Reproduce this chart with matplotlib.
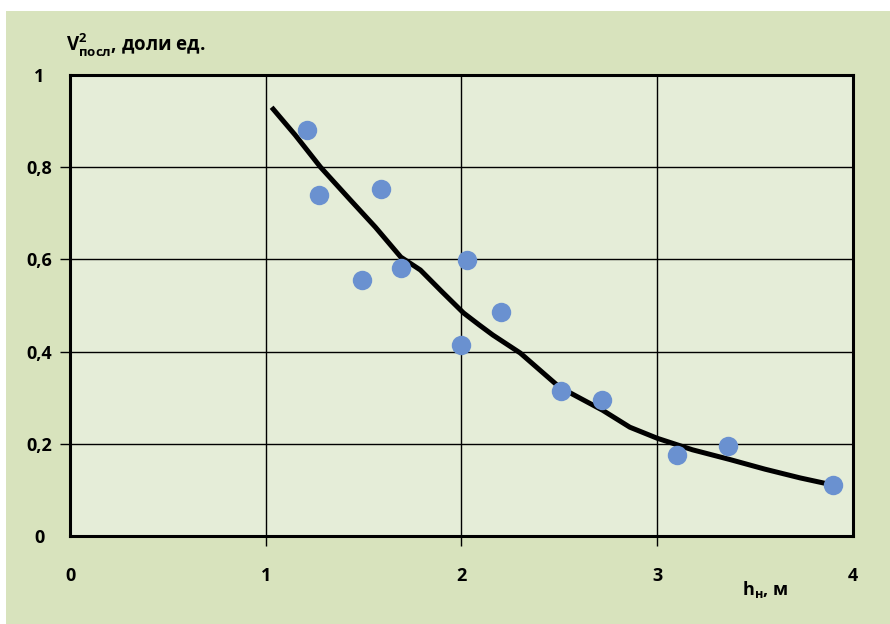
import matplotlib.pyplot as plt
from matplotlib.patches import Rectangle

plt.rcParams['font.family'] = ['Open Sans', 'DejaVu Sans']
plt.rcParams['mathtext.fontset'] = 'custom'
plt.rcParams['mathtext.rm'] = 'Open Sans:bold'
plt.rcParams['mathtext.it'] = 'Open Sans:bold'
plt.rcParams['mathtext.bf'] = 'Open Sans:bold'

# measured points
h_pts = [1.21, 1.27, 1.59, 1.49, 1.69, 2.03, 2.00, 2.20, 2.51, 2.72, 3.10, 3.36, 3.90]
v_pts = [0.88, 0.74, 0.753, 0.555, 0.581, 0.599, 0.414, 0.486, 0.315, 0.295, 0.176, 0.195, 0.111]

# trend curve
h_fit = [1.03, 1.15, 1.28, 1.43, 1.56, 1.69, 1.79, 1.90, 2.01, 2.09, 2.16, 2.30, 2.50,
         2.72, 2.86, 3.00, 3.18, 3.37, 3.55, 3.73, 3.86]
v_fit = [0.93, 0.87, 0.80, 0.73, 0.67, 0.605, 0.577, 0.53, 0.484, 0.458, 0.436, 0.397, 0.323,
         0.273, 0.236, 0.212, 0.187, 0.166, 0.145, 0.126, 0.114]

x_ticks = [0, 1, 2, 3, 4]
y_ticks = [0, 0.2, 0.4, 0.6, 0.8, 1]
y_labels = ['0', '0,2', '0,4', '0,6', '0,8', '1']

fig = plt.figure(figsize=(8.9, 6.24), dpi=100, facecolor='white')
fig.patches.append(Rectangle((6 / 890, 0), 1, (624 - 11) / 624, transform=fig.transFigure,
                             facecolor='#d8e3bd', edgecolor='none', zorder=-5))

ax = fig.add_axes([70 / 890, 88 / 624, 783 / 890, 461 / 624])
ax.set_facecolor('#e5edd8')
ax.set_xlim(0, 4)
ax.set_ylim(0, 1)

ax.grid(True, color='black', linewidth=1)
ax.set_axisbelow(True)
for s in ax.spines.values():
    s.set_linewidth(2.2)
    s.set_color('black')

ax.plot(h_fit, v_fit, color='black', linewidth=3.6, solid_capstyle='butt',
        solid_joinstyle='round', zorder=3)
ax.plot(h_pts, v_pts, 'o', color='#6a91d0', markersize=14, markeredgewidth=0, zorder=4)

ax.set_xticks(x_ticks)
ax.set_xticklabels([str(t) for t in x_ticks])
ax.set_yticks(y_ticks)
ax.set_yticklabels(y_labels)
ax.tick_params(axis='both', direction='out', length=7, width=1, color='black',
               labelsize=13)
ax.tick_params(axis='x', pad=15)
ax.tick_params(axis='y', pad=15)
for lb in ax.get_xticklabels() + ax.get_yticklabels():
    lb.set_fontweight('bold')
for lb in ax.get_yticklabels():
    lb.set_ha('center')

# no tick marks at the corners
for axis in (ax.xaxis, ax.yaxis):
    ticks = axis.get_major_ticks()
    for t in (ticks[0], ticks[-1]):
        t.tick1line.set_visible(False)

fig.text(66 / 890, 1 - 45 / 624, r'$\mathrm{V^{2}_{посл}}$, доли ед.', fontsize=13.5,
         fontweight='bold', ha='left', va='center')
fig.text(742 / 890, 1 - 590 / 624, r'$\mathrm{h_{н}}$, м', fontsize=13,
         fontweight='bold', ha='left', va='center')

fig.savefig('out.png', dpi=100, facecolor=fig.get_facecolor())
